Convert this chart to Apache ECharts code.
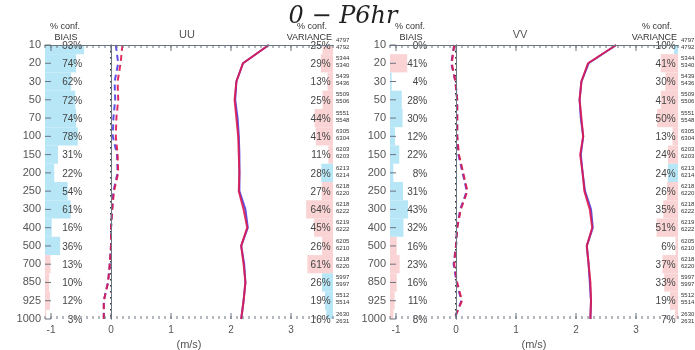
<!DOCTYPE html>
<html>
<head>
<meta charset="utf-8">
<script src="https://cdn.jsdelivr.net/npm/echarts@6/dist/echarts.min.js"></script>
<style>
  html, body { margin: 0; padding: 0; background: #fff; }
  #chart { width: 695px; height: 350px; }
</style>
</head>
<body>
<div id="chart"></div>
<script>
// pressure levels (hPa), top to bottom
var levels = [10, 20, 30, 50, 70, 100, 150, 200, 250, 300, 400, 500, 700, 850, 925, 1000];
var xTickLabels = [-1, 0, 1, 2, 3];

// % confidence, bias (left bars) and variance (right bars); sign 1 = blue, -1 = pink
var uuBiasPct  = [93, 74, 62, 72, 74, 78, 31, 22, 54, 61, 16, 36, 13, 10, 12, 3];
var uuBiasSign = [1, 1, 1, 1, 1, 1, 1, 1, 1, 1, 1, 1, -1, -1, -1, -1];
var uuVarPct   = [25, 29, 13, 25, 44, 41, 11, 28, 27, 64, 45, 26, 61, 26, 19, 16];
var uuVarSign  = [-1, -1, -1, -1, -1, -1, -1, 1, -1, -1, -1, -1, -1, 1, 1, 1];
var vvBiasPct  = [0, 41, 4, 28, 30, 12, 22, 8, 31, 43, 32, 16, 23, 16, 11, 8];
var vvBiasSign = [1, -1, 1, 1, 1, 1, 1, 1, 1, 1, 1, -1, -1, -1, -1, -1];
var vvVarPct   = [10, 41, 30, 41, 50, 13, 24, 24, 26, 35, 51, 6, 37, 33, 19, 7];
var vvVarSign  = [1, -1, -1, -1, -1, -1, -1, 1, -1, -1, -1, -1, -1, -1, -1, -1];

// number of observations per level
var obsFirst  = [4797, 5344, 5439, 5509, 5551, 6305, 6203, 6213, 6218, 6218, 6219, 6205, 6218, 5997, 5512, 2630];
var obsSecond = [4792, 5340, 5436, 5506, 5548, 6304, 6203, 6214, 6220, 6222, 6222, 6210, 6220, 5997, 5514, 2631];

// UU profiles (m/s)
var uuStdRed   = [2.63, 2.20, 2.09, 2.06, 2.09, 2.12, 2.13, 2.14, 2.13, 2.21, 2.27, 2.17, 2.21, 2.24, 2.21, 2.17];
var uuStdBlue  = [2.63, 2.20, 2.09, 2.07, 2.11, 2.13, 2.14, 2.14, 2.14, 2.24, 2.28, 2.17, 2.22, 2.24, 2.21, 2.17];
var uuBiasRed  = [0.19, 0.16, 0.11, 0.12, 0.09, 0.08, 0.11, 0.12, 0.05, 0.02, 0.00, 0.00, -0.02, -0.05, -0.12, -0.12];
var uuBiasBlue = [0.08, 0.12, 0.06, 0.07, 0.04, 0.03, 0.10, 0.11, 0.04, 0.02, 0.00, 0.00, -0.02, -0.05, -0.12, -0.12];

// VV profiles (m/s)
var vvStdRed   = [2.67, 2.20, 2.09, 2.06, 2.09, 2.12, 2.07, 2.11, 2.14, 2.23, 2.27, 2.18, 2.21, 2.24, 2.25, 2.24];
var vvStdBlue  = [2.67, 2.21, 2.09, 2.06, 2.08, 2.12, 2.08, 2.11, 2.15, 2.25, 2.28, 2.18, 2.21, 2.23, 2.25, 2.24];
var vvBiasRed  = [-0.03, -0.07, -0.01, 0.02, 0.02, 0.02, 0.05, 0.12, 0.19, 0.08, 0.02, 0.00, -0.03, 0.02, 0.10, -0.03];
var vvBiasBlue = [-0.03, -0.08, -0.01, 0.02, 0.02, 0.02, 0.04, 0.11, 0.18, 0.07, 0.02, 0.00, -0.04, 0.01, 0.09, -0.03];

var X_MIN = -1.1, X_MAX = 3.7;
var PCT_SCALE = 0.007;     // x units per % for the confidence bars
var BLUE = '#b7e6f6', PINK = '#fad4d4';
var RED = '#de1a4f', VIOLET = '#4b3fe0';
var FRAME = '#6b7580', TXT = '#555';
var FONT = '"Liberation Sans", Arial, sans-serif';

var minorTicks = [];
for (var t = Math.round(X_MIN * 10); t <= Math.round(X_MAX * 10); t++) minorTicks.push(t / 10);

function pairs(vals) {
    return vals.map(function (v, i) { return [v, i]; });
}

function barRender(fromRight) {
    return function (params, api) {
        var pct = api.value(0), idx = api.value(1), sign = api.value(2);
        var edge = fromRight ? X_MAX : X_MIN;
        var end = fromRight ? X_MAX - pct * PCT_SCALE : X_MIN + pct * PCT_SCALE;
        var p0 = api.coord([edge, idx]);
        var p1 = api.coord([end, idx]);
        var h = api.size([0, 1])[1];
        var cs = params.coordSys;
        var rect = echarts.graphic.clipRectByRect(
            { x: Math.min(p0[0], p1[0]), y: p0[1] - h / 2, width: Math.abs(p1[0] - p0[0]), height: h },
            { x: cs.x, y: cs.y, width: cs.width, height: cs.height });
        if (!rect) return;
        return { type: 'rect', shape: rect, style: { fill: sign > 0 ? BLUE : PINK } };
    };
}

function pctLabelRender(xPos) {
    return function (params, api) {
        var p = api.coord([xPos, api.value(1)]);
        return {
            type: 'text', x: p[0], y: p[1] + 1,
            style: { text: api.value(0) + '%', fill: '#444', font: '10px ' + FONT,
                     align: 'right', textAlign: 'right', verticalAlign: 'middle', textVerticalAlign: 'middle' }
        };
    };
}

function obsRender(params, api) {
    var p = api.coord([X_MAX, api.value(2)]);
    var st = { fill: '#333', font: '6px ' + FONT, align: 'left', textAlign: 'left',
               verticalAlign: 'middle', textVerticalAlign: 'middle' };
    return {
        type: 'group',
        children: [
            { type: 'text', x: p[0] + 3, y: p[1] - 5, style: Object.assign({ text: String(api.value(0)) }, st) },
            { type: 'text', x: p[0] + 3, y: p[1] + 2, style: Object.assign({ text: String(api.value(1)) }, st) }
        ]
    };
}

// inward ticks on top and bottom of the frame (value, length)
function xTickRender(params, api) {
    var top = api.coord([api.value(0), 0]);
    var bot = api.coord([api.value(0), levels.length - 1]);
    var len = api.value(1);
    var st = { stroke: FRAME, lineWidth: 1 };
    return {
        type: 'group',
        children: [
            { type: 'line', shape: { x1: top[0], y1: top[1], x2: top[0], y2: top[1] + len }, style: st },
            { type: 'line', shape: { x1: bot[0], y1: bot[1], x2: bot[0], y2: bot[1] - len }, style: st }
        ]
    };
}

// inward ticks on the left side of the frame, one per level
function yTickRender(params, api) {
    var p = api.coord([X_MIN, api.value(0)]);
    return { type: 'line', shape: { x1: p[0], y1: p[1], x2: p[0] + 6, y2: p[1] },
             style: { stroke: FRAME, lineWidth: 1 } };
}

var grids = [], xAxes = [], yAxes = [], series = [];

function panel(p, left, biasPct, biasSign, varPct, varSign, biasRed, biasBlue, stdRed, stdBlue) {
    grids.push({ left: left, top: 45, width: 288, height: 274, outerBoundsMode: 'none', containLabel: false });
    var base = { gridIndex: p, type: 'value', min: X_MIN, max: X_MAX, z: 5,
                 splitLine: { show: false }, axisTick: { show: false } };
    xAxes.push(Object.assign({}, base, {
        position: 'bottom',
        axisLine: { show: true, lineStyle: { color: FRAME } },
        axisLabel: { show: true, customValues: xTickLabels, color: TXT, fontSize: 10, fontFamily: FONT, margin: 6 },
        name: '(m/s)', nameLocation: 'middle', nameGap: 20,
        nameTextStyle: { color: TXT, fontSize: 11, fontFamily: FONT }
    }));
    xAxes.push(Object.assign({}, base, {
        position: 'top',
        axisLine: { show: true, lineStyle: { color: FRAME } },
        axisLabel: { show: false }
    }));
    yAxes.push({
        gridIndex: p, type: 'value', min: 0, max: levels.length - 1, interval: 1, inverse: true,
        position: 'left', z: 5, splitLine: { show: false },
        axisLine: { show: true, lineStyle: { color: FRAME } },
        axisTick: { show: false },
        axisLabel: { color: TXT, fontSize: 11, fontFamily: FONT, margin: 4,
                     formatter: function (v) { return levels[v]; } }
    });
    yAxes.push({
        gridIndex: p, type: 'value', min: 0, max: levels.length - 1, inverse: true,
        position: 'right', z: 5, splitLine: { show: false },
        axisLine: { show: true, lineStyle: { color: FRAME } },
        axisTick: { show: false }, axisLabel: { show: false }
    });
    var xi = p * 2, yi = p * 2;
    series.push({
        type: 'custom', xAxisIndex: xi, yAxisIndex: yi, z: 1, silent: true,
        renderItem: barRender(false),
        data: biasPct.map(function (v, i) { return [v, i, biasSign[i]]; })
    });
    series.push({
        type: 'custom', xAxisIndex: xi, yAxisIndex: yi, z: 1, silent: true,
        renderItem: barRender(true),
        data: varPct.map(function (v, i) { return [v, i, varSign[i]]; })
    });
    series.push({
        type: 'custom', xAxisIndex: xi, yAxisIndex: yi, z: 6, silent: true,
        renderItem: xTickRender,
        data: minorTicks.map(function (v) { return [v, 3]; })
            .concat(xTickLabels.map(function (v) { return [v, 6]; }))
    });
    series.push({
        type: 'custom', xAxisIndex: xi, yAxisIndex: yi, z: 6, silent: true,
        renderItem: yTickRender,
        data: levels.map(function (v, i) { return [i]; })
    });
    series.push({
        type: 'custom', xAxisIndex: xi, yAxisIndex: yi, z: 3, silent: true,
        renderItem: pctLabelRender(-0.48),
        data: biasPct.map(function (v, i) { return [v, i]; })
    });
    series.push({
        type: 'custom', xAxisIndex: xi, yAxisIndex: yi, z: 3, silent: true,
        renderItem: pctLabelRender(3.66),
        data: varPct.map(function (v, i) { return [v, i]; })
    });
    series.push({
        type: 'custom', xAxisIndex: xi, yAxisIndex: yi, z: 3, silent: true,
        renderItem: obsRender,
        data: obsFirst.map(function (v, i) { return [v, obsSecond[i], i]; })
    });
    // zero reference (dotted)
    series.push({
        type: 'line', xAxisIndex: xi, yAxisIndex: yi, z: 2, silent: true,
        showSymbol: false, data: [[0, 0], [0, levels.length - 1]],
        lineStyle: { color: '#333', width: 2, type: [1.5, 4.5] }
    });
    var lineDefs = [
        [stdBlue, VIOLET, 'solid'], [stdRed, RED, 'solid'],
        [biasBlue, VIOLET, [6, 4]], [biasRed, RED, [6, 4]]
    ];
    lineDefs.forEach(function (d) {
        series.push({
            type: 'line', xAxisIndex: xi, yAxisIndex: yi, z: 4, silent: true,
            showSymbol: false, data: pairs(d[0]), clip: false,
            lineStyle: { color: d[1], width: 2, type: d[2], opacity: 0.9 }
        });
    });
}

panel(0, 45, uuBiasPct, uuBiasSign, uuVarPct, uuVarSign, uuBiasRed, uuBiasBlue, uuStdRed, uuStdBlue);
panel(1, 390, vvBiasPct, vvBiasSign, vvVarPct, vvVarSign, vvBiasRed, vvBiasBlue, vvStdRed, vvStdBlue);

function txt(x, y, s, size, align, extra) {
    return {
        type: 'text', x: x, y: y,
        style: Object.assign({ text: s, fill: '#333', font: size + 'px ' + FONT,
                               textAlign: align, align: align, textVerticalAlign: 'middle', verticalAlign: 'middle' }, extra || {})
    };
}

var graphics = [
    txt(343, 17, '0 \u2212 P6hr', 24, 'center', { font: 'italic 24px "DejaVu Serif", serif', fill: '#222' })
];
[['UU', 0, 187], ['VV', 345, 520]].forEach(function (d) {
    var o = d[1];
    graphics.push(txt(65 + o, 27, '% conf.', 9, 'center'));
    graphics.push(txt(66 + o, 38, 'BIAIS', 9, 'center'));
    graphics.push(txt(d[2], 35, d[0], 11, 'center', { fill: '#555' }));
    graphics.push(txt(312 + o, 27, '% conf.', 9, 'center'));
    graphics.push(txt(332 + o, 38, 'VARIANCE', 9, 'right'));
});

var chart = echarts.init(document.getElementById('chart'), null, { renderer: 'canvas' });
chart.setOption({
    animation: false,
    backgroundColor: '#fff',
    grid: grids,
    xAxis: xAxes,
    yAxis: yAxes,
    series: series,
    graphic: graphics
});
</script>
</body>
</html>
